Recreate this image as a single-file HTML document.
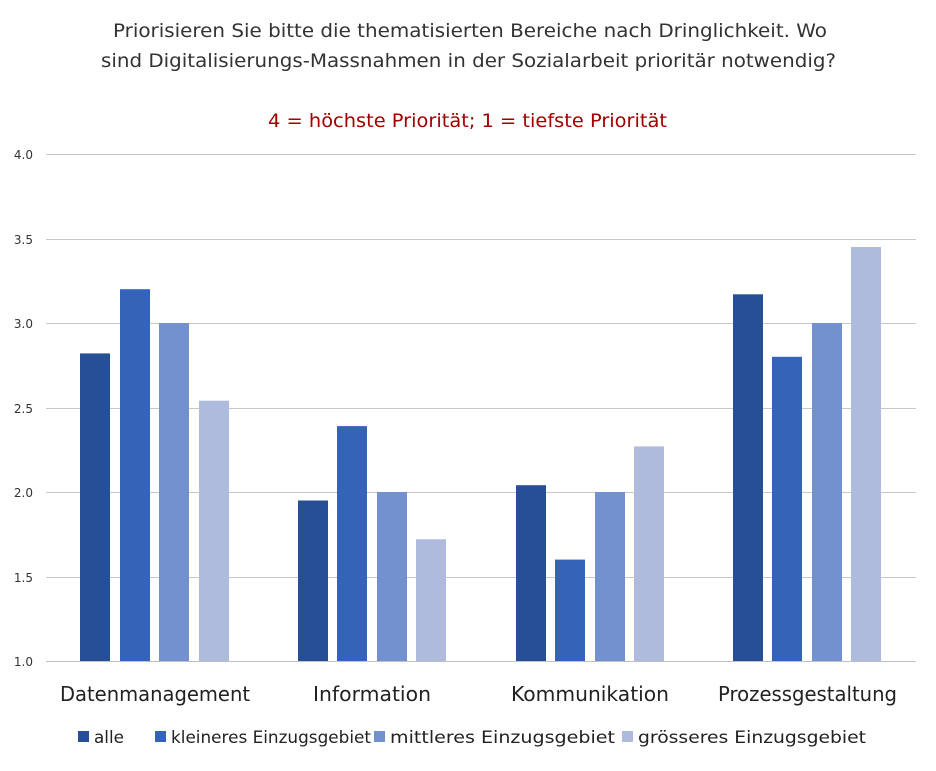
<!DOCTYPE html>
<html><head><meta charset="utf-8"><style>html,body{margin:0;padding:0;background:#fff}</style></head>
<body>
<svg width="936" height="766" xmlns="http://www.w3.org/2000/svg" font-family="DejaVu Sans, Liberation Sans, sans-serif">
<rect width="936" height="766" fill="#fff"/>
<text x="113" y="37" font-size="19" textLength="714" lengthAdjust="spacingAndGlyphs" fill="#333">Priorisieren Sie bitte die thematisierten Bereiche nach Dringlichkeit. Wo</text>
<text x="101" y="67" font-size="19" textLength="735" lengthAdjust="spacingAndGlyphs" fill="#333">sind Digitalisierungs-Massnahmen in der Sozialarbeit prioritär notwendig?</text>
<text x="268" y="127" font-size="19" textLength="399" lengthAdjust="spacingAndGlyphs" fill="#a00000">4 = höchste Priorität; 1 = tiefste Priorität</text>
<g stroke="#c8c8c8" stroke-width="1">
<line x1="46" y1="154.5" x2="916" y2="154.5"/>
<line x1="46" y1="239.5" x2="916" y2="239.5"/>
<line x1="46" y1="323.5" x2="916" y2="323.5"/>
<line x1="46" y1="408.5" x2="916" y2="408.5"/>
<line x1="46" y1="492.5" x2="916" y2="492.5"/>
<line x1="46" y1="577.5" x2="916" y2="577.5"/>
</g>
<g font-size="12" fill="#333" text-anchor="end">
<text x="33" y="159">4.0</text><text x="33" y="244">3.5</text><text x="33" y="328">3.0</text>
<text x="33" y="413">2.5</text><text x="33" y="497">2.0</text><text x="33" y="582">1.5</text><text x="33" y="666">1.0</text>
</g>
<g>
<rect x="80" y="353.4" width="30" height="307.6" fill="#264f96"/>
<rect x="120" y="289.2" width="30" height="371.8" fill="#3463b8"/>
<rect x="159" y="323" width="30" height="338" fill="#7390cf"/>
<rect x="199" y="400.7" width="30" height="260.3" fill="#aebbdd"/>
<rect x="298" y="500.5" width="30" height="160.5" fill="#264f96"/>
<rect x="337" y="426.1" width="30" height="234.9" fill="#3463b8"/>
<rect x="377" y="492" width="30" height="169" fill="#7390cf"/>
<rect x="416" y="539.3" width="30" height="121.7" fill="#aebbdd"/>
<rect x="516" y="485.2" width="30" height="175.8" fill="#264f96"/>
<rect x="555" y="559.6" width="30" height="101.4" fill="#3463b8"/>
<rect x="595" y="492" width="30" height="169" fill="#7390cf"/>
<rect x="634" y="446.4" width="30" height="214.6" fill="#aebbdd"/>
<rect x="733" y="294.3" width="30" height="366.7" fill="#264f96"/>
<rect x="772" y="356.8" width="30" height="304.2" fill="#3463b8"/>
<rect x="812" y="323" width="30" height="338" fill="#7390cf"/>
<rect x="851" y="247" width="30" height="414" fill="#aebbdd"/>
</g>
<line x1="46" y1="661.5" x2="916" y2="661.5" stroke="#c0c0c0" stroke-width="1"/>
<g font-size="20" fill="#222">
<text x="60" y="701" textLength="190" lengthAdjust="spacingAndGlyphs">Datenmanagement</text>
<text x="313" y="701" textLength="118" lengthAdjust="spacingAndGlyphs">Information</text>
<text x="511" y="701" textLength="158" lengthAdjust="spacingAndGlyphs">Kommunikation</text>
<text x="718" y="701" textLength="179" lengthAdjust="spacingAndGlyphs">Prozessgestaltung</text>
</g>
<g font-size="17" fill="#222">
<rect x="78" y="731" width="11" height="11" fill="#264f96"/><text x="94" y="743" textLength="30" lengthAdjust="spacingAndGlyphs">alle</text>
<rect x="155" y="731" width="11" height="11" fill="#3463b8"/><text x="171" y="743" textLength="200" lengthAdjust="spacingAndGlyphs">kleineres Einzugsgebiet</text>
<rect x="374" y="731" width="11" height="11" fill="#7390cf"/><text x="390" y="743" textLength="225" lengthAdjust="spacingAndGlyphs">mittleres Einzugsgebiet</text>
<rect x="622" y="731" width="11" height="11" fill="#aebbdd"/><text x="638" y="743" textLength="228" lengthAdjust="spacingAndGlyphs">grösseres Einzugsgebiet</text>
</g>
</svg>
</body></html>
